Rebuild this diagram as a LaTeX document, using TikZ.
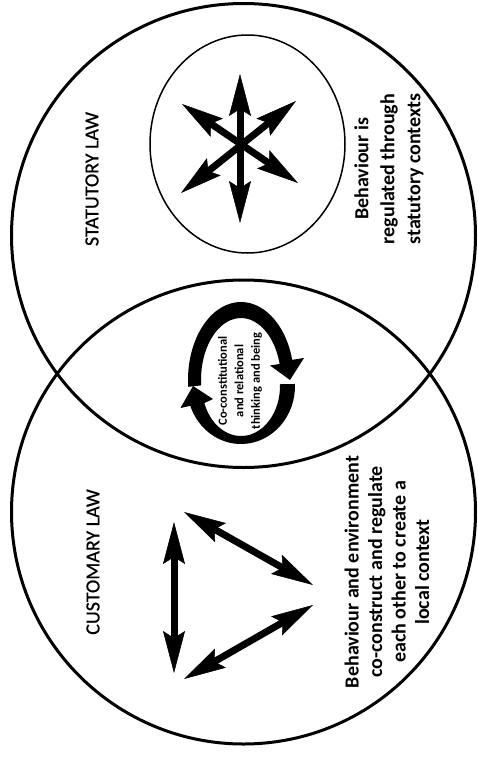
\documentclass[tikz,border=0pt]{standalone}
\usepackage{fontspec}
\setmainfont{Carlito}
\newfontface\lawfont{Carlito}[FakeBold=0.7]
\usetikzlibrary{arrows.meta,shapes.geometric}
\tikzset{
  bigring/.style={draw, circle, line width=3pt, minimum size=464pt, inner sep=0pt},
  innerring/.style={draw, ellipse, line width=1.5pt, minimum width=195pt, minimum height=218pt, inner sep=0pt},
  dblarrow/.style={line width=7pt,
    {Stealth[length=42pt,width=22pt,inset=7pt,line width=0.5pt]}-{Stealth[length=42pt,width=22pt,inset=7pt,line width=0.5pt]}},
  cycshape/.style={fill=black},
  lawlabel/.style={rotate=90, font=\lawfont\fontsize{20}{24}\selectfont},
  desclabel/.style={rotate=90, align=center, font=\bfseries\fontsize{20}{26}\selectfont},
  midlabel/.style={rotate=90, align=center, font=\bfseries\fontsize{12.5}{16.5}\selectfont}
}
\begin{document}
\begin{tikzpicture}[x=1pt,y=-1pt]
\useasboundingbox[fill=white] (0,0) rectangle (478,771);
% circles
\node[bigring] (statutory) at (243.5,235.5) {};
\node[bigring] (customary) at (243.5,512) {};
\node[innerring] (inner) at (247.5,144) {};
% star arrows
\coordinate (s1a) at (240,74);  \coordinate (s1b) at (240,223);
\coordinate (s2a) at (182,104); \coordinate (s2b) at (298,183);
\coordinate (s3a) at (296,101); \coordinate (s3b) at (181,193);
\draw[dblarrow] (s1a) -- (s1b);
\draw[dblarrow] (s2a) -- (s2b);
\draw[dblarrow] (s3a) -- (s3b);
% triangle arrows
\coordinate (t1a) at (174,522); \coordinate (t1b) at (174,673);
\coordinate (t2a) at (184,512); \coordinate (t2b) at (313,585);
\coordinate (t3a) at (313,605); \coordinate (t3b) at (184,679);
\draw[dblarrow] (t1a) -- (t1b);
\draw[dblarrow] (t2a) -- (t2b);
\draw[dblarrow] (t3a) -- (t3b);
% cycle arrows (tapered filled shapes)
\coordinate (uo) at ({241+53*cos(175)},{380+78*sin(175)});
\coordinate (ui) at ({241+40*cos(345)},{380+62*sin(345)});
\coordinate (ub1) at (304,358);
\coordinate (utip) at (290,380);
\coordinate (ub2) at (270,365.5);
\fill[cycshape] (uo) arc[start angle=175, end angle=345, x radius=53, y radius=78]
  -- (ub1) -- (utip) -- (ub2) -- (ui)
  arc[start angle=345, end angle=175, x radius=40, y radius=62] -- cycle;
\coordinate (lo) at ({241+54*cos(-2)},{386+58*sin(-2)});
\coordinate (li) at ({241+39*cos(160)},{386+50*sin(160)});
\coordinate (lb1) at (180.5,408);
\coordinate (ltip) at (193,386);
\coordinate (lb2) at (213,399);
\fill[cycshape] (lo) arc[start angle=-2, end angle=160, x radius=54, y radius=58]
  -- (lb1) -- (ltip) -- (lb2) -- (li)
  arc[start angle=160, end angle=-2, x radius=39, y radius=50] -- cycle;
% labels
\node[lawlabel] (statlabel) at (92,179) {STATUTORY LAW};
\node[lawlabel] (custlabel) at (93,562) {CUSTOMARY LAW};
\node[desclabel] (statdesc) at (389,169) {Behaviour is\\regulated through\\statutory contexts};
\node[desclabel, font=\bfseries\fontsize{20}{23.5}\selectfont] (custdesc) at (387,572) {Behaviour and environment\\co-construct and regulate\\each other to create a\\local context};
\node[midlabel] (midtext) at (240,381) {Co-constitutional\\and relational\\thinking and being};
\end{tikzpicture}
\end{document}
